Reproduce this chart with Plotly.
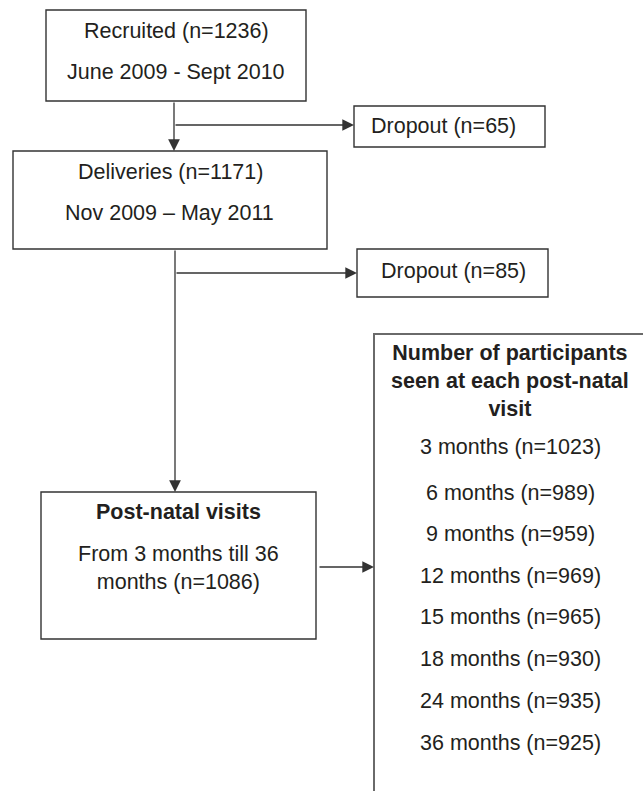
import plotly.graph_objects as go

# ---- data ----
recruited_n = 1236
recruited_period = "June 2009 - Sept 2010"
dropout_counts = [65, 85]
deliveries_n = 1171
deliveries_period = "Nov 2009 \u2013 May 2011"
postnatal_n = 1086
visit_months = [3, 6, 9, 12, 15, 18, 24, 36]
visit_counts = [1023, 989, 959, 969, 965, 930, 935, 925]

# ---- layout geometry (pixel coords, y downwards) ----
W, H = 643, 791
FONT = "Liberation Sans, Arial, sans-serif"
FS = 21.5
TXT = "#231f20"
LINE = "#333333"

fig = go.Figure()
fig.add_trace(go.Scatter(x=[0, W], y=[0, H], mode="markers",
                         marker=dict(opacity=0), hoverinfo="skip", showlegend=False))

def box(x0, y0, x1, y1, color=LINE, width=1.4):
    fig.add_shape(type="rect", x0=x0, y0=y0, x1=x1, y1=y1, xref="x", yref="y",
                  line=dict(color=color, width=width), fillcolor="rgba(0,0,0,0)")

def text(x, y, s, bold=False, anchor="center"):
    fig.add_annotation(x=x, y=y, xref="x", yref="y", text=f"<b>{s}</b>" if bold else s,
                       showarrow=False, xanchor=anchor, yanchor="middle",
                       font=dict(family=FONT, size=FS, color=TXT))

def arrow(x0, y0, x1, y1):
    fig.add_annotation(x=x1, y=y1, ax=x0, ay=y0, xref="x", yref="y", axref="x", ayref="y",
                       text="", showarrow=True, arrowhead=2, arrowsize=1.8,
                       arrowwidth=1.3, arrowcolor=LINE, standoff=0, startstandoff=0)

# boxes
box(46, 10, 306, 101)            # recruited
box(354, 106, 545, 147)          # dropout 1
box(13, 151, 327, 249)           # deliveries
box(357, 249, 548, 297)          # dropout 2
box(41, 492, 316, 639)           # post-natal
box(374, 334, 720, 860, color="#6a6a6a", width=2)  # visits (runs off page)

# connectors
arrow(174, 101, 174, 151)
arrow(174, 125, 354, 125)
arrow(175, 249, 175, 492)
arrow(175, 273, 357, 273)
arrow(318, 567, 374, 567)

# texts
text(176, 31, f"Recruited (n={recruited_n})")
text(176, 72, recruited_period)
text(369, 126, f"Dropout (n={dropout_counts[0]})", anchor="left")
text(170, 172, f"Deliveries (n={deliveries_n})")
text(169, 213, deliveries_period)
text(453, 271, f"Dropout (n={dropout_counts[1]})")
text(178.5, 512, "Post-natal visits", bold=True)
text(178.5, 568, f"From 3 months till 36<br>months (n={postnatal_n})")
text(510, 381, "Number of participants<br>seen at each post-natal<br>visit", bold=True)

visit_y = [447, 493, 534, 576, 617, 659, 701, 743]
for m, n, yy in zip(visit_months, visit_counts, visit_y):
    text(510, yy, f"{m} months (n={n})")

fig.update_layout(
    width=W, height=H, margin=dict(l=0, r=0, t=0, b=0),
    paper_bgcolor="white", plot_bgcolor="white", showlegend=False,
    xaxis=dict(range=[0, W], visible=False, fixedrange=True),
    yaxis=dict(range=[H, 0], visible=False, fixedrange=True),
)
fig.write_html("out.html", config={"displayModeBar": False},
               post_script="document.body.style.margin='0';document.body.style.overflow='hidden';")
